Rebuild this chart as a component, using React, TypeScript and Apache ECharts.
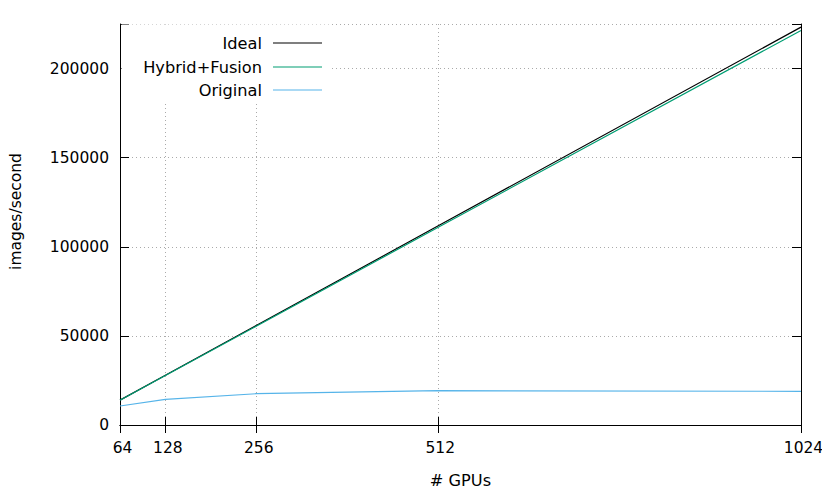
import React, { useEffect, useRef } from "react";
import * as echarts from "echarts";

const gpus = [64, 128, 256, 512, 1024];
const idealValues = [13952, 27904, 55808, 111616, 223232];
const hybridValues = [13900, 27750, 55400, 110800, 221400];
const originalValues = [10650, 14400, 17550, 19250, 18900];
const xTicks = [64, 128, 256, 512, 1024];
const seriesNames = ["Ideal", "Hybrid+Fusion", "Original"];
const seriesColors = ["#000000", "#009e73", "#56b4e9"];

const FONT = "DejaVu Sans";

export default function App() {
  const ref = useRef<HTMLDivElement>(null);
  useEffect(() => {
    if (!ref.current) return;
    const chart = echarts.init(ref.current, undefined, { renderer: "svg" });
    const data = [idealValues, hybridValues, originalValues];
    const legendTops = [35, 59, 82];
    const gridLine = { show: true, lineStyle: { color: "#aaaaaa", type: [1, 3] as any, width: 1 } };
    chart.setOption({
      animation: false,
      backgroundColor: "#ffffff",
      textStyle: { fontFamily: FONT },
      grid: { left: 120, right: 29, top: 24, bottom: 73, containLabel: false },
      legend: seriesNames.map((n, i) => ({
        data: [n],
        right: 508,
        top: legendTops[i],
        orient: "vertical",
        align: "right",
        icon: "rect",
        itemWidth: 49,
        itemHeight: 1.2,
        padding: 0,
        z: 20,
        selectedMode: false,
        textStyle: { fontFamily: FONT, fontSize: 16.2, color: "#000", padding: [0, 6, 0, 0] },
      })),
      graphic: [
        {
          type: "rect",
          z: 5,
          shape: { x: 121.5, y: 24.5, width: 210, height: 79 },
          style: { fill: "#ffffff" },
          silent: true,
        },
      ],
      xAxis: [
        {
          type: "value",
          min: 64,
          max: 1024,
          position: "bottom",
          z: 0,
          name: "# GPUs",
          nameLocation: "middle",
          nameGap: 47,
          nameTextStyle: { fontFamily: FONT, fontSize: 16.2, color: "#000" },
          axisLine: { show: true, lineStyle: { color: "#000", width: 1 } },
          axisTick: { show: true, inside: true, length: 8, customValues: xTicks, lineStyle: { color: "#000" } },
          axisLabel: {
            customValues: xTicks,
            fontFamily: FONT,
            fontSize: 15.5,
            color: "#000",
            margin: 15,
            padding: [0, 0, 0, 5],
            formatter: (v: number) => String(v),
          },
          splitLine: gridLine,
        },
        {
          type: "value",
          min: 64,
          max: 1024,
          position: "top",
          z: 10,
          axisLine: { show: true, lineStyle: { color: "#000", width: 1 } },
          axisTick: { show: true, inside: true, length: 8, customValues: xTicks, lineStyle: { color: "#000" } },
          axisLabel: { show: false },
          splitLine: { show: false },
        },
      ],
      yAxis: [
        {
          type: "value",
          min: 0,
          max: 225000,
          interval: 50000,
          position: "left",
          z: 0,
          name: "images/second",
          nameLocation: "middle",
          nameGap: 96,
          nameTextStyle: { fontFamily: FONT, fontSize: 15.5, color: "#000", padding: [0, 0, 0, 26] },
          axisLine: { show: true, lineStyle: { color: "#000", width: 1 } },
          axisTick: { show: true, inside: true, length: 9, lineStyle: { color: "#000" } },
          axisLabel: {
            fontFamily: FONT,
            fontSize: 15.5,
            color: "#000",
            margin: 11,
            formatter: (v: number) => (v % 50000 === 0 ? String(v) : ""),
          },
          splitLine: gridLine,
        },
        {
          type: "value",
          min: 0,
          max: 225000,
          interval: 50000,
          position: "right",
          z: 10,
          axisLine: { show: true, lineStyle: { color: "#000", width: 1 } },
          axisTick: { show: true, inside: true, length: 9, lineStyle: { color: "#000" } },
          axisLabel: { show: false },
          splitLine: { show: false },
        },
      ],
      series: seriesNames.map((n, i) => ({
        name: n,
        type: "line",
        xAxisIndex: 0,
        yAxisIndex: 0,
        z: 8,
        showSymbol: false,
        symbol: "none",
        color: seriesColors[i],
        itemStyle: { color: seriesColors[i] },
        lineStyle: { color: seriesColors[i], width: 1.2 },
        data: gpus.map((g, j) => [g, data[i][j]]),
      })),
    });
    return () => chart.dispose();
  }, []);
  return <div ref={ref} style={{ width: 830, height: 498, margin: -8 }} />;
}
